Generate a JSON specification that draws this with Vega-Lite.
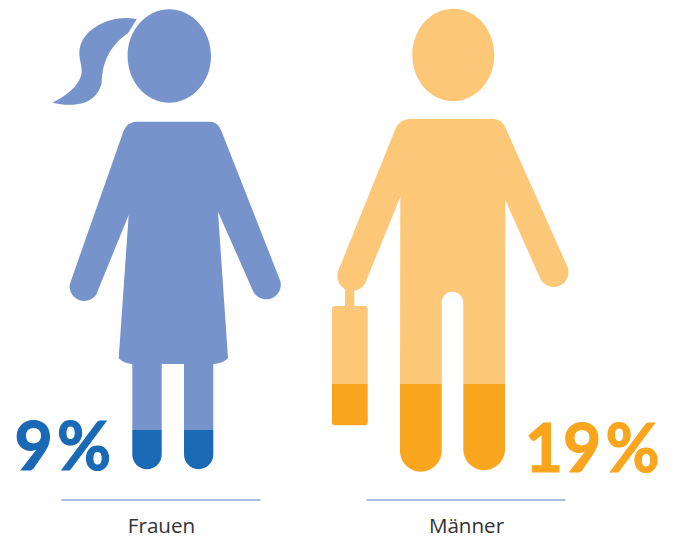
{
"$schema":"https://vega.github.io/schema/vega-lite/v6.json",
"width":674,"height":500,
"autosize":{"type":"none"},
"padding":{"left":0,"top":0,"right":0,"bottom":38},
"background":"white",
"config":{"view":{"stroke":null}},
"datasets":{
"figuren":[
{"gruppe":"Frauen","teil":"Frauen Figur","wert":0},
{"gruppe":"Frauen","teil":"Frauen Anteil","wert":9},
{"gruppe":"Männer","teil":"Männer Figur","wert":0},
{"gruppe":"Männer","teil":"Männer Anteil","wert":19}
],
"anteile":[
{"gruppe":"Frauen","wert":9,"label":"9\u200a%"},
{"gruppe":"Männer","wert":19,"label":"19\u200a%"}
]
},
"encoding":{
"x":{"field":"gruppe","type":"nominal","sort":["Frauen","Männer"],
"scale":{"type":"point","domain":["Frauen","Männer"],"range":[161,466],"padding":0},
"axis":{"title":null,"domain":false,"ticks":false,"grid":false,"labelAngle":0,"labelFont":"Open Sans","labelFontSize":20.6,"labelColor":"#333333","labelBaseline":"alphabetic","labelPadding":32}}
},
"layer":[
{"data":{"name":"anteile"},
"mark":{"type":"tick","orient":"horizontal","size":199,"thickness":2,"color":"#abbde3","opacity":1},
"encoding":{"y":{"datum":-6.12,"type":"quantitative","scale":{"domain":[-6.12,101.87],"range":[500,0]},"axis":null}}
},
{"data":{"name":"figuren"},
"mark":{"type":"point","filled":true,"opacity":1,"size":4,"strokeWidth":0},
"encoding":{
"y":{"field":"wert","type":"quantitative","scale":{"domain":[-6.12,101.87],"range":[500,0]},"axis":null},
"fill":{"field":"teil","type":"nominal","legend":null,"scale":{"domain":["Frauen Figur","Frauen Anteil","Männer Figur","Männer Anteil"],"range":["#7793cc","#1a69b5","#fdc778","#f9a61e"]}},
"shape":{"field":"teil","type":"nominal","legend":null,"scale":{"domain":["Frauen Figur","Frauen Anteil","Männer Figur","Männer Anteil"],"range":[
"M-33.4,-415.7 A41.7,46.7 0 1 1 50,-415.7 A41.7,46.7 0 1 1 -33.4,-415.7 Z M-24.3,-452.4 C-46,-457.7 -81,-444.7 -81.7,-418.7 C-81.7,-411.7 -79.3,-406.7 -79.3,-401.7 C-79,-386.7 -96,-374.7 -108.7,-369 C-92,-365.2 -66,-363.7 -59.3,-388.4 C-59,-411.7 -49,-427.7 -33,-438.4 Z M-24.3,-350 L49,-350 C55,-350 58.5,-345.7 60.7,-340 L119.3,-190.7 A14.6,14.6 0 0 1 92,-180.7 L57,-260 L67,-113.4 C63,-109.7 58,-107.7 52.3,-107.7 L52.3,-41.67 L23,-41.67 L23,-107.7 L0.7,-107.7 L0.7,-41.67 L-28.7,-41.67 L-28.7,-107.7 C-33.5,-107.7 -38.5,-109.7 -42.3,-113.4 L-32.3,-256.7 L-64.7,-177.2 A14.6,14.6 0 0 1 -91.3,-187.2 L-37.7,-340 C-35.5,-345.7 -31,-350 -24.3,-350 Z",
"M-28.7,0 L0.7,0 L0.7,24.6 A14.7,14.7 0 0 1 -28.7,24.6 Z M23,0 L52.3,0 L52.3,24.6 A14.65,14.65 0 0 1 23,24.6 Z",
"M-53.7,-416.7 A41,46.2 0 1 1 28.3,-416.7 A41,46.2 0 1 1 -53.7,-416.7 Z M-56,-352.7 L27.3,-352.7 C33,-352.7 37.5,-349 39.7,-343.4 L101.9,-204 A15,15 0 0 1 74.5,-192.3 L39.3,-271.7 L39,-88 L-2.7,-88 L-2.7,-169.2 A10.8,10.8 0 0 0 -24.3,-169.2 L-24.3,-88 L-66,-88 L-65.7,-275 L-99.8,-190.6 A14.7,14.7 0 0 1 -127.8,-200.6 L-70.3,-343.4 C-68,-349 -62,-352.7 -56,-352.7 Z M-121,-186.7 L-111.7,-186.7 L-111.7,-165.7 L-121,-165.7 Z M-131,-165.7 L-101.3,-165.7 Q-98.3,-165.7 -98.3,-162.7 L-98.3,-88 L-134,-88 L-134,-162.7 Q-134,-165.7 -131,-165.7 Z",
"M-66,0 L-24.3,0 L-24.3,67.1 A20.85,20.85 0 0 1 -66,67.1 Z M-2.7,0 L39,0 L39,65.5 A20.85,20.85 0 0 1 -2.7,65.5 Z M-134,0 L-98.3,0 L-98.3,38.6 Q-98.3,41.6 -101.3,41.6 L-131,41.6 Q-134,41.6 -134,38.6 Z"
]}}
}},
{"data":{"name":"anteile"},
"transform":[{"filter":"datum.gruppe === 'Frauen'"}],
"mark":{"type":"text","font":"Lato","fontWeight":"bold","fontSize":66,"align":"right","baseline":"alphabetic","dx":-50,"dy":-2,"color":"#1a69b5","stroke":"#1a69b5","strokeWidth":1.2},
"encoding":{"text":{"field":"label"},"y":{"datum":0,"type":"quantitative","scale":{"domain":[-6.12,101.87],"range":[500,0]},"axis":null}}
},
{"data":{"name":"anteile"},
"transform":[{"filter":"datum.gruppe === 'Männer'"}],
"mark":{"type":"text","font":"Lato","fontWeight":"bold","fontSize":66,"align":"right","baseline":"alphabetic","dx":193.5,"color":"#f9a61e","stroke":"#f9a61e","strokeWidth":1.2},
"encoding":{"text":{"field":"label"},"y":{"datum":0,"type":"quantitative","scale":{"domain":[-6.12,101.87],"range":[500,0]},"axis":null}}
}
]
}
